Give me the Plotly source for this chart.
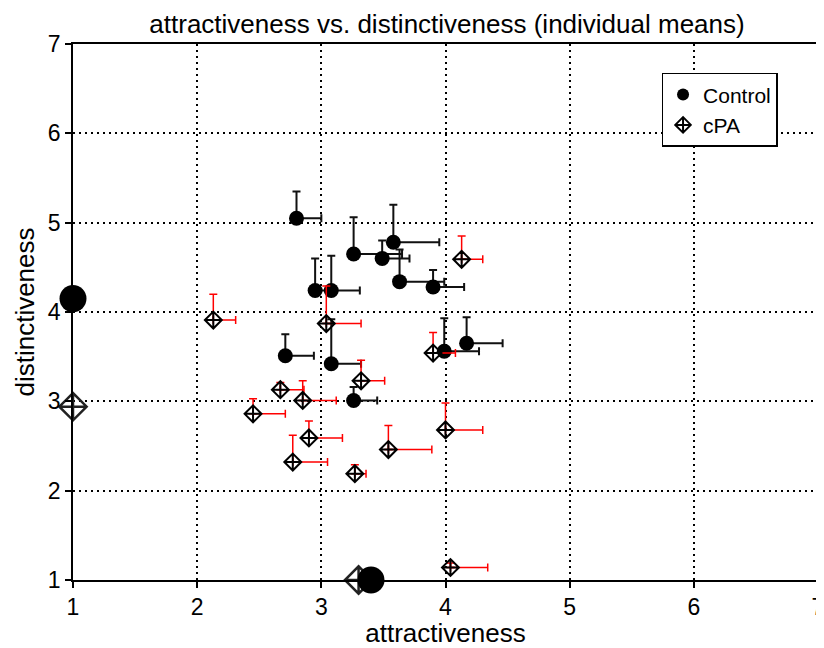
import plotly.graph_objects as go

# Control (individual means) and one-sided errors (right for x, up for y)
ctrl_x = [2.80, 3.26, 3.58, 3.49, 3.63, 3.90, 2.95, 3.08, 2.71, 3.08, 3.26, 3.99, 4.17]
ctrl_y = [5.05, 4.65, 4.78, 4.60, 4.34, 4.28, 4.24, 4.24, 3.51, 3.42, 3.01, 3.56, 3.65]
ctrl_xerr = [0.20, 0.39, 0.37, 0.22, 0.36, 0.25, 0.12, 0.23, 0.23, 0.24, 0.19, 0.28, 0.29]
ctrl_yerr = [0.30, 0.41, 0.42, 0.20, 0.36, 0.19, 0.36, 0.39, 0.24, 0.50, 0.15, 0.37, 0.29]

# cPA
cpa_x = [2.13, 3.04, 3.32, 2.67, 2.85, 2.45, 2.90, 2.77, 3.27, 3.54, 4.00, 4.13, 3.90, 4.04]
cpa_y = [3.91, 3.87, 3.23, 3.13, 3.01, 2.86, 2.59, 2.32, 2.19, 2.46, 2.68, 4.59, 3.54, 1.14]
cpa_xerr = [0.18, 0.28, 0.19, 0.19, 0.27, 0.26, 0.27, 0.28, 0.09, 0.35, 0.30, 0.17, 0.18, 0.30]
cpa_yerr = [0.29, 0.42, 0.23, 0.08, 0.22, 0.17, 0.19, 0.30, 0.10, 0.27, 0.30, 0.26, 0.23, 0.05]

# group means shown on the axes
ctrl_mean = (3.40, 4.15)
cpa_mean = (3.30, 2.94)

ticks = [1, 2, 3, 4, 5, 6, 7]

fig = go.Figure()

fig.add_trace(go.Scatter(
    x=ctrl_x, y=ctrl_y, mode="markers", name="Control",
    marker=dict(symbol="circle", size=15, color="black"),
    error_x=dict(type="data", symmetric=False, array=ctrl_xerr,
                 arrayminus=[0] * len(ctrl_x), color="#111111", thickness=2, width=4),
    error_y=dict(type="data", symmetric=False, array=ctrl_yerr,
                 arrayminus=[0] * len(ctrl_y), color="#111111", thickness=2, width=4),
))

fig.add_trace(go.Scatter(
    x=cpa_x, y=cpa_y, mode="markers", name="cPA",
    marker=dict(symbol="diamond-cross-open", size=13, color="black",
                line=dict(color="black", width=2)),
    error_x=dict(type="data", symmetric=False, array=cpa_xerr,
                 arrayminus=[0] * len(cpa_x), color="red", thickness=1.5, width=4),
    error_y=dict(type="data", symmetric=False, array=cpa_yerr,
                 arrayminus=[0] * len(cpa_y), color="red", thickness=1.5, width=4),
))

# big mean markers on the axes
fig.add_trace(go.Scatter(
    x=[1, cpa_mean[0]], y=[cpa_mean[1], 1], mode="markers", showlegend=False,
    cliponaxis=False,
    marker=dict(symbol="diamond-cross-open", size=21, color="#222222",
                line=dict(color="#222222", width=2.5)),
))
fig.add_trace(go.Scatter(
    x=[1, ctrl_mean[0]], y=[ctrl_mean[1], 1], mode="markers", showlegend=False,
    cliponaxis=False,
    marker=dict(symbol="circle", size=27, color="black"),
))

axis_common = dict(
    range=[1, 7], tickvals=ticks, ticktext=[str(t) for t in ticks],
    showgrid=True, gridcolor="black", gridwidth=1.5, griddash="2px,4px",
    showline=True, linecolor="black", linewidth=1.5, mirror=True,
    ticks="outside", ticklen=6, tickcolor="black", tickwidth=1.5,
    tickfont=dict(size=23, color="black"), zeroline=False,
    automargin=False, ticklabeloverflow="allow",
)

fig.update_layout(
    width=816, height=640,
    margin=dict(l=65, r=6, t=36, b=68),
    paper_bgcolor="white", plot_bgcolor="white",
    font=dict(family="Liberation Sans, Arial, sans-serif", color="black"),
    title=dict(text="attractiveness vs. distinctiveness (individual means)",
               x=0.538, xanchor="center", y=0.99, yanchor="top",
               pad=dict(t=0, b=0),
               font=dict(size=26, color="black")),
    xaxis=dict(axis_common, title=dict(text="attractiveness", font=dict(size=26), standoff=4)),
    yaxis=dict(axis_common, title=dict(text="distinctiveness", font=dict(size=26), standoff=6)),
    legend=dict(x=0.79, y=0.946, xanchor="left", yanchor="top",
                bgcolor="white", bordercolor="black", borderwidth=1.5,
                font=dict(size=21, color="black"), itemsizing="constant"),
)

fig.write_html("out.html")
